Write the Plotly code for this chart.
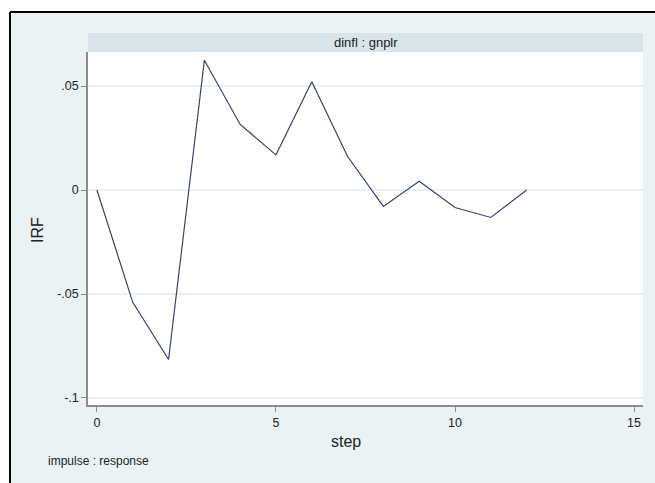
import plotly.graph_objects as go

steps = [0, 1, 2, 3, 4, 5, 6, 7, 8, 9, 10, 11, 12]
irf = [0.0, -0.054, -0.0815, 0.0624, 0.0315, 0.0169, 0.0521, 0.0161,
       -0.0079, 0.0042, -0.0084, -0.0132, 0.0]

x_ticks = [0, 5, 10, 15]
x_labels = ["0", "5", "10", "15"]
y_ticks = [0.05, 0, -0.05, -0.1]
y_labels = [".05", "0", "-.05", "-.1"]
panel_title = "dinfl : gnplr"
note = "impulse : response"

W, H = 655, 483
L, R, T, B = 88, 643, 52, 405
pw, ph = R - L, B - T

def px(x):
    return (x - L) / pw

def py(y):
    return (B - y) / ph

font = "Liberation Sans, Arial, sans-serif"
bg = "#EAF2F3"

fig = go.Figure()
fig.add_trace(go.Scatter(x=steps, y=irf, mode="lines",
                         line=dict(color="#34426E", width=1.2),
                         showlegend=False, hoverinfo="skip"))

shapes = [
    dict(type="rect", xref="paper", yref="paper", x0=px(-5), x1=px(W + 5),
         y0=py(12), y1=py(-5), fillcolor="white", line=dict(width=0), layer="above"),
    dict(type="rect", xref="paper", yref="paper", x0=px(-5), x1=px(10),
         y0=py(H + 5), y1=py(-5), fillcolor="white", line=dict(width=0), layer="above"),
    dict(type="line", xref="paper", yref="paper", x0=px(10), x1=px(W + 5),
         y0=py(12), y1=py(12), line=dict(color="black", width=2), layer="above"),
    dict(type="line", xref="paper", yref="paper", x0=px(10), x1=px(10),
         y0=py(12), y1=py(H + 5), line=dict(color="black", width=2), layer="above"),
    dict(type="rect", xref="paper", yref="paper", x0=0, x1=1,
         y0=1, y1=py(33), fillcolor="#D8E4EA", line=dict(width=0), layer="above"),
]

annotations = [
    dict(text=panel_title, xref="paper", yref="paper", x=0.5, y=py(42.5),
         xanchor="center", yanchor="middle", showarrow=False,
         font=dict(family=font, size=13, color="#222222")),
    dict(text="IRF", xref="paper", yref="paper", x=px(37), y=py(230),
         xanchor="center", yanchor="middle", showarrow=False, textangle=-90,
         font=dict(family=font, size=16, color="#222222")),
    dict(text="step", xref="paper", yref="paper", x=px(346), y=py(441),
         xanchor="center", yanchor="middle", showarrow=False,
         font=dict(family=font, size=16, color="#222222")),
    dict(text=note, xref="paper", yref="paper", x=px(46), y=py(461),
         xanchor="left", yanchor="middle", showarrow=False,
         font=dict(family=font, size=12, color="#222222")),
]

fig.update_layout(
    width=W, height=H,
    margin=dict(l=L, r=W - R, t=T, b=H - B, pad=0),
    paper_bgcolor=bg, plot_bgcolor="white",
    shapes=shapes, annotations=annotations,
    xaxis=dict(range=[-0.25, 15.25], tickvals=x_ticks, ticktext=x_labels,
               showgrid=False, zeroline=False, showline=True,
               linecolor="#8C8C8C", linewidth=1.5,
               ticks="outside", ticklen=5, tickcolor="#8C8C8C",
               tickfont=dict(family=font, size=12.5, color="#222222")),
    yaxis=dict(range=[-0.10337, 0.06635], tickvals=y_ticks, ticktext=y_labels,
               showgrid=True, gridcolor="#EAF2F3", gridwidth=1.5, zeroline=False,
               showline=True, linecolor="#8C8C8C", linewidth=1.5,
               ticks="outside", ticklen=5, tickcolor="#8C8C8C",
               tickfont=dict(family=font, size=12.5, color="#222222")),
)

fig.write_html("out.html", config={"displayModeBar": False})

with open("out.html", "r", encoding="utf-8") as f:
    html = f.read()
html = html.replace("<head>", "<head><style>html,body{margin:0;padding:0;overflow:hidden;}</style>", 1)
with open("out.html", "w", encoding="utf-8") as f:
    f.write(html)
